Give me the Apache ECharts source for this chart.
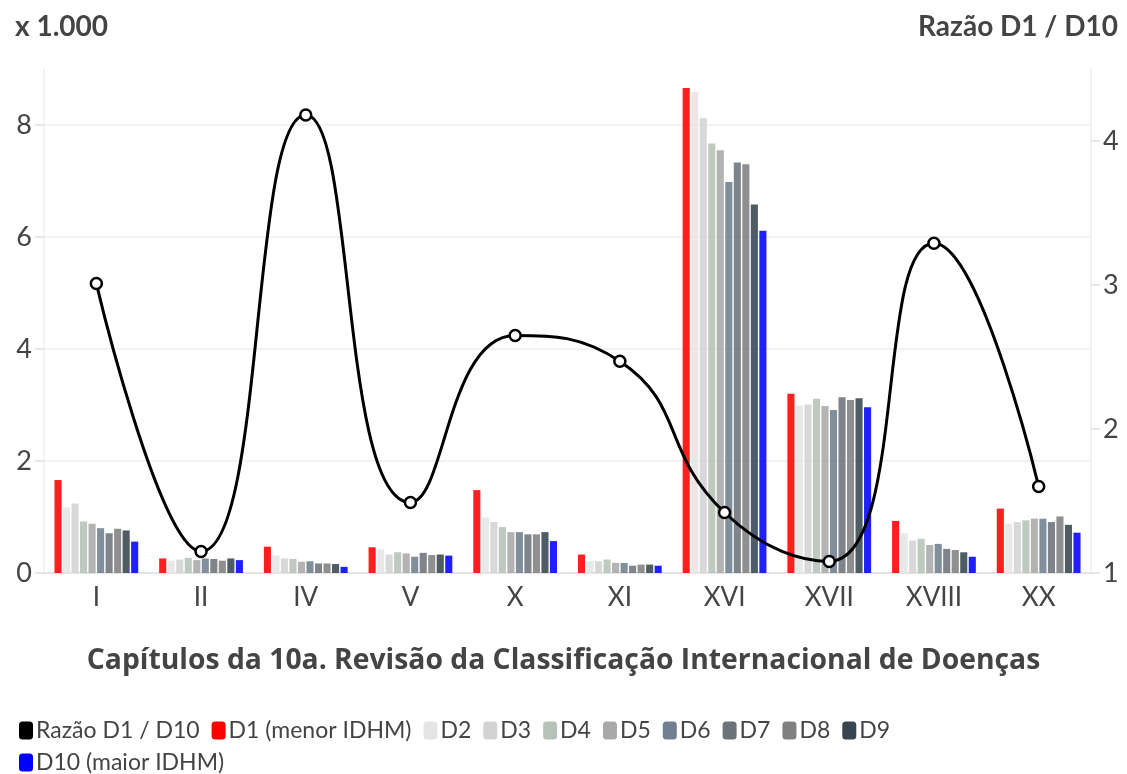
<!DOCTYPE html>
<html><head><meta charset="utf-8">
<script src="https://cdn.jsdelivr.net/npm/echarts@6/dist/echarts.min.js"></script>
<style>html,body{margin:0;padding:0;background:#fff}#c{width:1127px;height:774px}</style>
</head><body><div id="c"></div>
<script>
const categories = ['I','II','IV','V','X','XI','XVI','XVII','XVIII','XX'];
const D1  = [1.66,0.26,0.47,0.46,1.48,0.33,8.66,3.20,0.93,1.15];
const D2  = [1.17,0.22,0.31,0.42,0.99,0.21,8.59,2.99,0.71,0.88];
const D3  = [1.24,0.24,0.26,0.33,0.91,0.21,8.12,3.01,0.58,0.91];
const D4  = [0.92,0.27,0.25,0.37,0.82,0.24,7.67,3.11,0.61,0.94];
const D5  = [0.88,0.23,0.20,0.35,0.73,0.18,7.55,2.98,0.50,0.97];
const D6  = [0.80,0.26,0.21,0.29,0.73,0.18,6.98,2.91,0.52,0.97];
const D7  = [0.71,0.25,0.17,0.36,0.69,0.13,7.33,3.14,0.43,0.91];
const D8  = [0.79,0.22,0.17,0.32,0.69,0.15,7.30,3.09,0.41,1.01];
const D9  = [0.76,0.26,0.16,0.33,0.73,0.15,6.58,3.12,0.37,0.86];
const D10 = [0.56,0.23,0.11,0.31,0.57,0.13,6.11,2.96,0.29,0.72];
const ratio = [3.01,1.15,4.18,1.49,2.65,2.47,1.42,1.08,3.29,1.60];
const barNames = ['D1 (menor IDHM)','D2','D3','D4','D5','D6','D7','D8','D9','D10 (maior IDHM)'];
const barData = [D1,D2,D3,D4,D5,D6,D7,D8,D9,D10];
const barColors = ['#ff0000','#e5e5e5','#d3d3d3','#b5c2b7','#a9a9a9','#708090','#6c737a','#808080','#36454f','#0000ff'];
const lineName = 'Razão D1 / D10';
const xTitle = 'Capítulos da 10a. Revisão da Classificação Internacional de Doenças';

const FONT = 'Lato';
const TXT = '#444';
const chart = echarts.init(document.getElementById('c'));
const series = barData.map((d,i)=>({
  name: barNames[i], type:'bar', data:d, yAxisIndex:0,
  barGap:'20%', barCategoryGap:'20%',
  itemStyle:{color:barColors[i], opacity:0.88},
  emphasis:{disabled:true}
}));
series.push({
  name: lineName, type:'line', yAxisIndex:1, data: ratio, smooth:0.5,
  symbol:'circle', symbolSize:11, z:10,
  lineStyle:{color:'#000', width:3},
  itemStyle:{color:'#fff', borderColor:'#000', borderWidth:2.5}
});
const legendCommon = {
  left:14, itemWidth:14, itemHeight:18, itemGap:12, icon:'roundRect',
  textStyle:{fontFamily:FONT, fontSize:23, color:TXT, padding:[0,0,0,-2]},
  itemStyle:{opacity:1}, selectedMode:false
};
chart.setOption({
  animation:false,
  textStyle:{fontFamily:FONT},
  title:[
    {text:'x 1.000', left:10, top:8, textStyle:{fontFamily:FONT, fontWeight:'bold', fontSize:28, color:TXT}},
    {text:lineName, right:4, top:8, textStyle:{fontFamily:FONT, fontWeight:'bold', fontSize:28, color:TXT}},
    {text:xTitle, left:'center', top:642, textStyle:{fontFamily:'Open Sans', fontWeight:'bold', fontSize:28.3, color:TXT}}
  ],
  legend:[
    Object.assign({}, legendCommon, {top:714, data:[{name:lineName, itemStyle:{color:'#000', borderWidth:0}, lineStyle:{opacity:0}}].concat(barNames.slice(0,9))}),
    Object.assign({}, legendCommon, {top:746, data:[barNames[9]]})
  ],
  grid:{left:44, right:36, top:69, bottom:201},
  xAxis:{type:'category', data:categories,
    axisLine:{lineStyle:{color:'#e0e0e0', width:1.5}},
    axisTick:{alignWithLabel:true, length:9, lineStyle:{color:'#e0e0e0', width:1.5}},
    axisLabel:{fontFamily:FONT, fontSize:26, color:TXT, margin:12}},
  yAxis:[
    {type:'value', min:0, max:9, interval:2,
      axisLine:{show:true, lineStyle:{color:'#eee', width:1.5}},
      axisTick:{show:true, length:9, lineStyle:{color:'#e0e0e0', width:1.5}},
      axisLabel:{fontFamily:FONT, fontSize:27, color:TXT, margin:12, showMaxLabel:false},
      splitLine:{lineStyle:{color:['#eee','#eee','#eee','#eee','#eee','rgba(0,0,0,0)'], width:1.5}}},
    {type:'value', min:1, max:4.5, interval:1, position:'right',
      axisLine:{show:true, lineStyle:{color:'#eee', width:1.5}},
      axisTick:{show:true, length:9, lineStyle:{color:'#e0e0e0', width:1.5}},
      axisLabel:{fontFamily:FONT, fontSize:27, color:TXT, margin:12, showMaxLabel:false},
      splitLine:{show:false}}
  ],
  series: series
});
</script></body></html>
